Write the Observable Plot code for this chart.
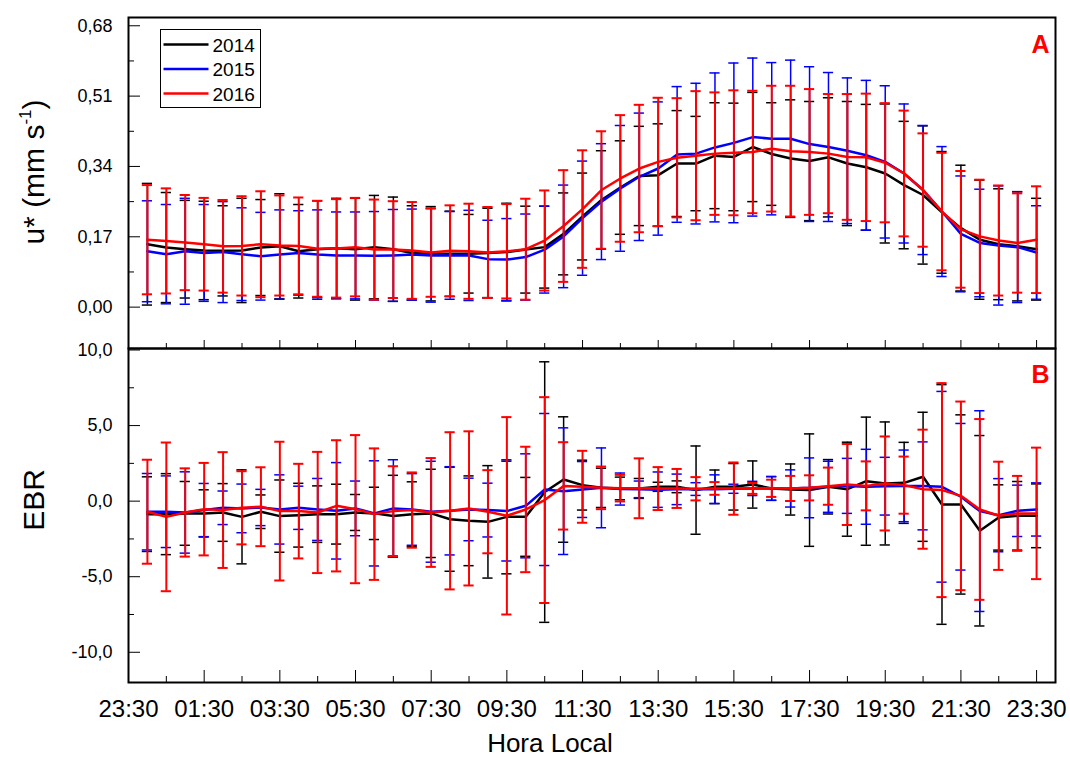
<!DOCTYPE html>
<html><head><meta charset="utf-8">
<script src="https://cdn.jsdelivr.net/npm/d3@7"></script>
<script src="https://cdn.jsdelivr.net/npm/@observablehq/plot@0.6"></script>
<style>
body{margin:0;background:#fff;font-family:"Liberation Sans",Arial,sans-serif;}
#wrap{position:relative;width:1070px;height:763px;overflow:hidden;background:#fff;}
#wrap svg{position:absolute;left:0;overflow:visible;}
</style></head><body><div id="wrap"></div>
<script>
// ---- data ----
const hora = ["00:00","00:30","01:00","01:30","02:00","02:30","03:00","03:30","04:00","04:30","05:00","05:30","06:00","06:30","07:00","07:30","08:00","08:30","09:00","09:30","10:00","10:30","11:00","11:30","12:00","12:30","13:00","13:30","14:00","14:30","15:00","15:30","16:00","16:30","17:00","17:30","18:00","18:30","19:00","19:30","20:00","20:30","21:00","21:30","22:00","22:30","23:00","23:30"];
const xTickLabels = ["23:30","01:30","03:30","05:30","07:30","09:30","11:30","13:30","15:30","17:30","19:30","21:30","23:30"];
const years = ["2014","2015","2016"];
const colors = ["#000000","#0000ff","#ff0000"];

const ustar2014 = [0.152,0.144,0.140,0.137,0.136,0.137,0.144,0.147,0.135,0.140,0.142,0.140,0.145,0.140,0.131,0.129,0.129,0.129,0.131,0.133,0.139,0.145,0.177,0.219,0.259,0.289,0.317,0.319,0.347,0.347,0.366,0.363,0.387,0.370,0.359,0.353,0.362,0.347,0.338,0.323,0.295,0.271,0.229,0.191,0.163,0.152,0.147,0.140];
const ustar2014sd = [0.147,0.133,0.118,0.119,0.109,0.126,0.116,0.127,0.113,0.117,0.121,0.123,0.125,0.126,0.114,0.114,0.103,0.095,0.108,0.118,0.105,0.099,0.099,0.105,0.119,0.113,0.120,0.124,0.128,0.114,0.128,0.130,0.132,0.124,0.142,0.144,0.144,0.150,0.152,0.168,0.154,0.167,0.147,0.152,0.144,0.134,0.132,0.123];
const ustar2015 = [0.135,0.128,0.135,0.131,0.133,0.128,0.123,0.127,0.131,0.127,0.125,0.125,0.124,0.125,0.127,0.125,0.125,0.125,0.116,0.115,0.121,0.139,0.171,0.215,0.255,0.287,0.315,0.335,0.369,0.371,0.386,0.397,0.411,0.407,0.407,0.394,0.387,0.378,0.367,0.351,0.323,0.283,0.231,0.177,0.155,0.149,0.145,0.132];
const ustar2015sd = [0.122,0.120,0.128,0.117,0.122,0.112,0.106,0.108,0.102,0.108,0.105,0.105,0.107,0.111,0.110,0.113,0.106,0.109,0.094,0.099,0.104,0.105,0.124,0.138,0.140,0.152,0.154,0.161,0.164,0.170,0.180,0.193,0.191,0.184,0.190,0.187,0.180,0.176,0.181,0.184,0.168,0.156,0.157,0.140,0.130,0.144,0.134,0.113];
const ustar2016 = [0.163,0.160,0.156,0.152,0.147,0.148,0.152,0.149,0.148,0.141,0.142,0.145,0.139,0.139,0.137,0.132,0.136,0.135,0.132,0.135,0.140,0.161,0.196,0.237,0.283,0.311,0.335,0.351,0.361,0.366,0.371,0.373,0.375,0.383,0.377,0.375,0.371,0.363,0.362,0.349,0.323,0.283,0.231,0.188,0.171,0.161,0.155,0.163];
const ustar2016sd = [0.132,0.127,0.115,0.112,0.112,0.120,0.128,0.121,0.117,0.116,0.119,0.119,0.121,0.117,0.117,0.107,0.110,0.115,0.110,0.114,0.122,0.121,0.135,0.142,0.142,0.153,0.154,0.155,0.144,0.156,0.148,0.151,0.148,0.152,0.158,0.152,0.144,0.152,0.154,0.144,0.152,0.137,0.142,0.141,0.137,0.133,0.120,0.129];

const ebr2014 = [-0.86,-0.86,-0.81,-0.81,-0.75,-1.04,-0.70,-0.99,-0.93,-0.86,-0.86,-0.75,-0.81,-0.99,-0.86,-0.81,-1.20,-1.30,-1.37,-1.04,-1.04,0.60,1.43,1.06,0.88,0.84,0.84,0.95,0.95,0.73,0.95,0.95,1.10,0.84,0.77,0.73,0.95,0.79,1.32,1.17,1.21,1.61,-0.22,-0.22,-1.96,-1.08,-0.97,-0.97];
const ebr2014sd = [2.47,2.68,2.11,1.56,1.91,3.11,1.11,2.39,2.11,1.87,1.98,1.19,1.73,2.70,2.14,2.92,3.44,2.97,3.72,3.77,2.61,8.62,4.15,1.65,1.30,0.75,0.66,0.30,0.39,2.92,1.11,1.54,1.56,0.79,1.69,3.72,1.80,3.11,4.24,4.07,2.68,4.27,7.93,5.93,6.30,2.16,2.27,2.11];
const ebr2015 = [-0.70,-0.70,-0.75,-0.59,-0.44,-0.48,-0.42,-0.55,-0.44,-0.55,-0.64,-0.48,-0.81,-0.48,-0.55,-0.70,-0.64,-0.55,-0.59,-0.66,-0.31,0.77,0.66,0.77,0.88,0.80,0.78,0.76,0.78,0.80,0.79,0.82,0.84,0.84,0.84,0.88,0.95,1.01,0.95,0.99,1.01,1.01,0.95,0.29,-0.66,-0.93,-0.64,-0.55];
const ebr2015sd = [2.53,2.37,2.69,1.76,1.11,1.61,1.20,2.29,1.43,2.05,3.19,1.81,3.48,3.22,2.37,3.34,2.92,2.07,1.78,3.30,3.44,5.03,4.19,1.85,2.64,1.06,0.55,1.17,1.01,0.42,0.95,0.30,0.47,0.78,1.23,1.98,1.69,1.82,2.48,1.91,2.37,2.91,6.31,4.85,6.64,2.42,1.70,1.76];
const ebr2016 = [-0.70,-1.04,-0.75,-0.53,-0.59,-0.44,-0.37,-0.66,-0.66,-0.75,-0.31,-0.53,-0.86,-0.66,-0.59,-0.75,-0.64,-0.48,-0.70,-0.97,-0.55,0.07,1.01,0.95,0.88,0.86,0.85,0.83,0.84,0.82,0.84,0.83,0.84,0.85,0.84,0.88,0.99,1.10,1.01,1.17,1.06,0.79,0.73,0.35,-0.55,-0.97,-0.81,-0.81];
const ebr2016sd = [3.44,4.92,2.92,3.06,3.83,2.42,2.61,4.59,3.13,4.01,4.34,4.90,4.35,2.97,2.49,3.60,5.20,5.10,2.75,6.53,4.15,6.81,2.89,2.38,1.41,0.88,1.98,1.42,1.29,0.77,0.42,1.73,0.36,0.57,0.83,0.83,1.23,2.68,1.62,3.11,1.89,3.94,7.08,6.24,5.98,3.58,2.48,4.35];

const uTicks = [0, 0.17, 0.34, 0.51, 0.68];
const uTickLabels = ["0,00","0,17","0,34","0,51","0,68"];
const uMinor = [0.085, 0.255, 0.425, 0.595];
const ebrTicks = [-10, -5, 0, 5, 10];
const ebrTickLabels = ["-10,0","-5,0","0,0","5,0","10,0"];
const ebrMinor = [-7.5, -2.5, 2.5, 7.5];

// ---- helpers ----
const FONT = "Liberation Sans, Arial, sans-serif";
const pos = h => { const [hh, mm] = h.split(":").map(Number); return (hh * 60 + mm + 30) / 30; };
const xMajor = xTickLabels.map((_, k) => k * 4);
const xMinor = xMajor.slice(0, -1).map(v => v + 2);
const xLabelMap = new Map(xMajor.map((v, k) => [v, xTickLabels[k]]));
const capHalf = 0.27;

function seriesMarks(means, sds, color) {
  const rows = hora.map((h, i) => ({x: pos(h), m: means[i], s: sds[i]}));
  const bw = color === "#ff0000" ? 2 : 1.5;
  return [
    Plot.ruleX(rows, {x: "x", y1: d => d.m - d.s, y2: d => d.m + d.s, stroke: color, strokeWidth: bw}),
    Plot.ruleY(rows, {y: d => d.m + d.s, x1: d => d.x - capHalf, x2: d => d.x + capHalf, stroke: color, strokeWidth: bw}),
    Plot.ruleY(rows, {y: d => d.m - d.s, x1: d => d.x - capHalf, x2: d => d.x + capHalf, stroke: color, strokeWidth: bw}),
    Plot.line(rows, {x: "x", y: "m", stroke: color, strokeWidth: 2.5})
  ];
}

function panel({height, marginTop, marginBottom, yDomain, means, sds, yTicks, yLabels, yMinor, bottomMajor, bottomMinor, letter, letterDy, showX}) {
  const yLabelMap = new Map(yTicks.map((v, k) => [v, yLabels[k]]));
  const marks = [];
  years.forEach((y, j) => marks.push(...seriesMarks(means[j], sds[j], colors[j])));
  marks.push(
    Plot.axisY({ticks: yTicks, tickSize: -12, fill: "none", label: null}),
    Plot.axisY({ticks: yMinor, tickSize: -6, fill: "none", label: null}),
    Plot.axisY({ticks: yTicks, tickSize: 0, tickPadding: 16, tickFormat: d => yLabelMap.get(d), fontSize: 18, label: null}),
    Plot.axisX({ticks: xMajor, tickSize: -bottomMajor, fill: "none", label: null}),
    Plot.axisX({ticks: xMinor, tickSize: -bottomMinor, fill: "none", label: null}),
    Plot.frame({stroke: "black", strokeWidth: 2}),
    Plot.text([letter], {frameAnchor: "top-right", text: d => d, dx: -6, dy: letterDy, fill: "#ff0000", fontSize: 25, fontWeight: "bold", textAnchor: "end", lineAnchor: "top"})
  );
  if (showX) marks.push(Plot.axisX({ticks: xMajor, tickSize: 0, tickPadding: 17, tickFormat: d => xLabelMap.get(d), fontSize: 24, label: null}));
  return Plot.plot({
    width: 1070, height, marginTop, marginBottom, marginLeft: 128, marginRight: 15,
    x: {domain: [0, 49]},
    y: {domain: yDomain},
    style: {overflow: "visible", background: "transparent", fontFamily: FONT, color: "black"},
    marks
  });
}

const wrap = document.getElementById("wrap");

const pA = panel({height: 349, marginTop: 17, marginBottom: 1, yDomain: [-0.1, 0.7],
  means: [ustar2014, ustar2015, ustar2016], sds: [ustar2014sd, ustar2015sd, ustar2016sd],
  yTicks: uTicks, yLabels: uTickLabels, yMinor: uMinor, bottomMajor: 8, bottomMinor: 5, letter: "A", letterDy: 18, showX: false});
pA.style.top = "0px";
wrap.appendChild(pA);

const pB = panel({height: 416, marginTop: 1, marginBottom: 81, yDomain: [-12, 10.1],
  means: [ebr2014, ebr2015, ebr2016], sds: [ebr2014sd, ebr2015sd, ebr2016sd],
  yTicks: ebrTicks, yLabels: ebrTickLabels, yMinor: ebrMinor, bottomMajor: 12, bottomMinor: 6, letter: "B", letterDy: 17, showX: true});
pB.style.top = "347px";
wrap.appendChild(pB);

// ---- titles and legend overlay ----
const ov = d3.create("svg").attr("width", 1070).attr("height", 763)
  .style("top", "0px").style("font-family", FONT).style("pointer-events", "none");
const uLab = ov.append("text").attr("transform", "translate(44,172) rotate(-90)")
  .attr("text-anchor", "middle").attr("font-size", 30);
uLab.append("tspan").text("u* (mm s");
uLab.append("tspan").attr("font-size", 17).attr("dy", -13).text("-1");
uLab.append("tspan").attr("dy", 13).text(")");
ov.append("text").attr("transform", "translate(44,500) rotate(-90)")
  .attr("text-anchor", "middle").attr("font-size", 30).text("EBR");
ov.append("text").attr("x", 550).attr("y", 752).attr("text-anchor", "middle")
  .attr("font-size", 26).text("Hora Local");

const lg = ov.append("g").attr("transform", "translate(160.5,29.5)");
lg.append("rect").attr("width", 100).attr("height", 78).attr("fill", "white").attr("stroke", "black").attr("stroke-width", 1);
years.forEach((y, j) => {
  const cy = 15 + j * 24.5;
  lg.append("line").attr("x1", 3).attr("x2", 48).attr("y1", cy).attr("y2", cy)
    .attr("stroke", colors[j]).attr("stroke-width", 2.5);
  lg.append("text").attr("x", 52).attr("y", cy + 7).attr("font-size", 19).text(y);
});
wrap.appendChild(ov.node());
</script>
</body></html>
